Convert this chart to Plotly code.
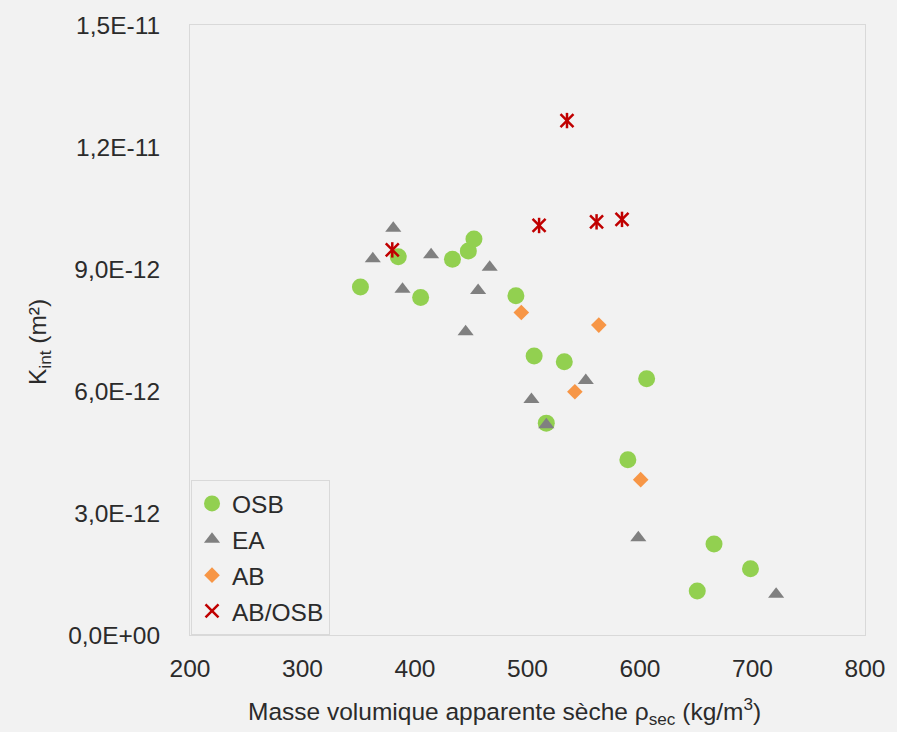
import plotly.graph_objects as go

# ---- data ----
osb_x = [351.5, 385.1, 405.0, 433.3, 447.4, 452.4, 489.7, 505.9, 516.7, 532.7, 589.2, 605.9, 650.9, 665.8, 698.2]
osb_y = [8.56e-12, 9.30e-12, 8.30e-12, 9.24e-12, 9.44e-12, 9.74e-12, 8.34e-12, 6.86e-12, 5.21e-12, 6.72e-12,
         4.31e-12, 6.30e-12, 1.08e-12, 2.24e-12, 1.63e-12]

ea_x = [362.5, 380.7, 388.9, 414.3, 445.0, 456.1, 466.4, 503.5, 516.7, 551.8, 598.5, 721.0]
ea_y = [9.25e-12, 1.000e-11, 8.50e-12, 9.35e-12, 7.46e-12, 8.47e-12, 9.04e-12, 5.79e-12, 5.17e-12, 6.26e-12,
        2.39e-12, 1.00e-12]

ab_x = [494.5, 542.1, 563.4, 600.6]
ab_y = [7.93e-12, 5.98e-12, 7.62e-12, 3.82e-12]

abosb_x = [379.8, 510.3, 535.1, 561.4, 584.0]
abosb_y = [9.47e-12, 1.007e-11, 1.265e-11, 1.016e-11, 1.022e-11]

x_ticks = [200, 300, 400, 500, 600, 700, 800]
y_tickvals = [0, 3e-12, 6e-12, 9e-12, 1.2e-11, 1.5e-11]
y_ticktext = ["0,0E+00", "3,0E-12", "6,0E-12", "9,0E-12", "1,2E-11", "1,5E-11"]

series_names = ["OSB", "EA", "AB", "AB/OSB"]
x_title = "Masse volumique apparente sèche ρ<sub>sec</sub> (kg/m<sup>3</sup>)"
y_title = "K<sub>int</sub> (m²)"

FONT = "Liberation Sans, Arial, sans-serif"
FS = 24.5
TXT = "#2b2b2b"
BG = "#f2f2f2"
BORDER = "#d9d9d9"

fig = go.Figure()
fig.add_trace(go.Scatter(x=osb_x, y=osb_y, mode="markers", name=series_names[0], legendgroup="g1",
                         marker=dict(symbol="circle", size=17, color="#92d050", line=dict(width=0))))
fig.add_trace(go.Scatter(x=ea_x, y=ea_y, mode="markers", name=series_names[1], legendgroup="g2",
                         marker=dict(symbol="triangle-up", size=14, color="#808080", line=dict(width=0))))
fig.add_trace(go.Scatter(x=ab_x, y=ab_y, mode="markers", name=series_names[2], legendgroup="g3",
                         marker=dict(symbol="diamond", size=12, color="#f79646", line=dict(width=0))))
fig.add_trace(go.Scatter(x=abosb_x, y=abosb_y, mode="markers", name=series_names[3], legendgroup="g4",
                         marker=dict(symbol="x-thin-open", size=13, color="#c00000",
                                     line=dict(width=2.5, color="#c00000"))))
fig.add_trace(go.Scatter(x=abosb_x, y=abosb_y, mode="markers", name=series_names[3], legendgroup="g4",
                         showlegend=False,
                         marker=dict(symbol="line-ns", size=11, color="#c00000",
                                     line=dict(width=2.5, color="#c00000"))))

fig.update_layout(
    width=897, height=732,
    margin=dict(l=190, r=25, t=25, b=97),
    paper_bgcolor=BG, plot_bgcolor=BG,
    font=dict(family=FONT, size=FS, color=TXT),
    showlegend=True,
    legend=dict(x=0.0015, y=0, xanchor="left", yanchor="bottom",
                bgcolor=BG, bordercolor=BORDER, borderwidth=1,
                font=dict(family=FONT, size=FS, color=TXT),
                tracegroupgap=1, itemsizing="trace"),
    xaxis=dict(range=[200, 800], tickvals=x_ticks, ticktext=[str(v) for v in x_ticks],
               showgrid=False, zeroline=False, showline=True, mirror=True,
               linecolor=BORDER, linewidth=1, ticks="", ticklabelstandoff=12),
    yaxis=dict(range=[0, 1.5e-11], tickvals=y_tickvals, ticktext=y_ticktext,
               showgrid=False, zeroline=False, showline=True, mirror=True,
               linecolor=BORDER, linewidth=1, ticks="", ticklabelstandoff=24),
    annotations=[
        dict(text=x_title, xref="paper", yref="paper", x=0.4655, y=-0.126,
             xanchor="center", yanchor="middle", showarrow=False,
             font=dict(family=FONT, size=FS, color=TXT)),
        dict(text=y_title, xref="paper", yref="paper", x=-0.224, y=0.480, textangle=-90,
             xanchor="center", yanchor="middle", showarrow=False,
             font=dict(family=FONT, size=FS, color=TXT)),
    ],
)

fig.write_html("out.html")
